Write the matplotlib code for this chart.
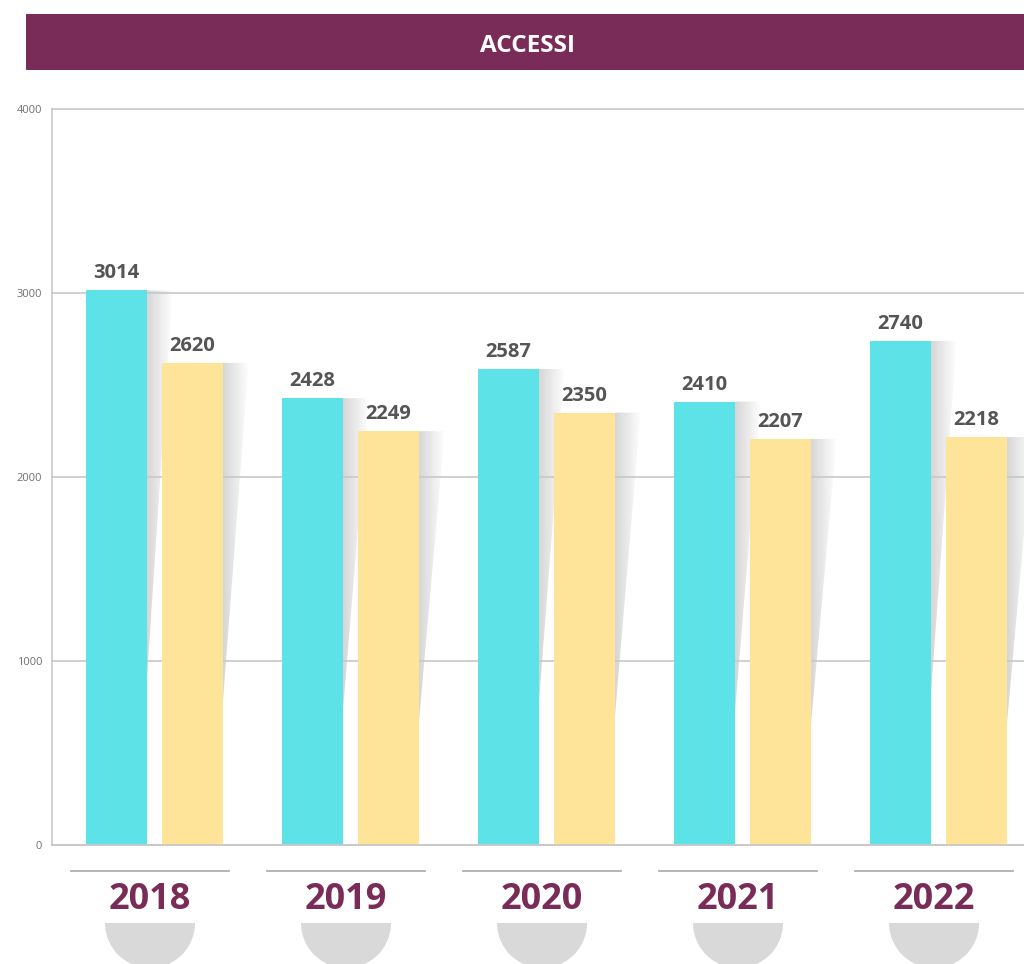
import matplotlib
matplotlib.use("Agg")
import matplotlib.pyplot as plt
import numpy as np
from matplotlib.patches import Polygon, Rectangle, Wedge
from matplotlib.lines import Line2D
from matplotlib.transforms import IdentityTransform
from matplotlib.colors import LinearSegmentedColormap

# ---- data ----
years = ["2018", "2019", "2020", "2021", "2022"]
series_a = [3014, 2428, 2587, 2410, 2740]
series_b = [2620, 2249, 2350, 2207, 2218]
yticks = [0, 1000, 2000, 3000, 4000]
title = "ACCESSI"

# ---- style ----
W, H = 1024, 964
DPI = 100
plum = "#7A2C58"
cyan = "#5DE3E7"
yellow = "#FEE498"
gridc = "#C8C8C8"
FONT = "Open Sans"

plt.rcParams["font.family"] = [FONT, "DejaVu Sans"]

fig = plt.figure(figsize=(W / DPI, H / DPI), dpi=DPI)
ax = fig.add_axes([52 / W, 119 / H, (W - 52) / W, 736 / H])

bar_w = 0.311
off = 0.194
x = np.arange(len(years))
xmin, xmax = -0.523, 4.436
ax.set_xlim(xmin, xmax)
ax.set_ylim(0, 4000)

bars_a = ax.bar(x - off, series_a, width=bar_w, color=cyan, zorder=3)
bars_b = ax.bar(x + off, series_b, width=bar_w, color=yellow, zorder=3)

# gradient shadows
grad = np.linspace(0, 1, 256).reshape(1, -1)
shcmap = LinearSegmentedColormap.from_list("sh", ["#D6D6D6", "#FFFFFF"])
for bars in (bars_a, bars_b):
    for b in bars:
        xr = b.get_x() + b.get_width()
        top = b.get_height()
        sw = b.get_width() * 0.42
        bottom = top * 0.30
        poly = Polygon([(xr, top), (xr + sw, top), (xr, bottom)], closed=True,
                       facecolor="none", edgecolor="none", transform=ax.transData)
        ax.add_patch(poly)
        im = ax.imshow(grad, extent=[xr, xr + sw, bottom, top], cmap=shcmap,
                       aspect="auto", zorder=1, interpolation="bilinear")
        im.set_clip_path(poly)

ax.set_xlim(xmin, xmax)
ax.set_ylim(0, 4000)

# grid & spines
ax.set_yticks(yticks)
ax.yaxis.grid(True, color=gridc, lw=1.2, zorder=2)
for gl in ax.get_ygridlines():
    gl.set_zorder(2)
    gl.set_clip_on(False)
ax.set_xticks([])
for s in ("top", "right"):
    ax.spines[s].set_visible(False)
for s in ("left", "bottom"):
    ax.spines[s].set_color(gridc)
    ax.spines[s].set_linewidth(1.2)
    ax.spines[s].set_zorder(4)
ax.tick_params(axis="y", length=0, pad=7, labelsize=8, labelcolor="#707070")

# value labels
for bars, vals in ((bars_a, series_a), (bars_b, series_b)):
    for b, v in zip(bars, vals):
        ax.annotate(f"{v}", (b.get_x() + b.get_width() / 2, v), xytext=(0, 5),
                    textcoords="offset points", ha="center", va="bottom",
                    fontsize=14.5, fontweight="bold", color="#555555", zorder=5)

# title bar
fig.patches.append(Rectangle((26 / W, (H - 70) / H), (W - 26) / W, 56 / H,
                             transform=fig.transFigure, facecolor=plum,
                             edgecolor="none", zorder=0))
fig.text(528 / W, (H - 52) / H, title, ha="center", va="baseline", color="white",
         fontsize=17.5, fontweight="bold")

# bottom decorations (year labels, separators, semicircles)
fig.canvas.draw()
for i, yr in enumerate(years):
    cx = ax.transData.transform((i - 0.023, 0))[0]
    fig.add_artist(Line2D([cx - 79, cx + 79], [H - 871, H - 871],
                          transform=IdentityTransform(), color="#A8A8A8", lw=1.2))
    fig.text(cx / W, (H - 909) / H, yr, ha="center", va="baseline",
             color=plum, fontsize=26, fontweight="bold")
    fig.add_artist(Wedge((cx, H - 923), 45, 180, 360, transform=IdentityTransform(),
                         facecolor="#D9D9D9", edgecolor="none"))

fig.savefig("out.png", dpi=DPI, facecolor="white")
